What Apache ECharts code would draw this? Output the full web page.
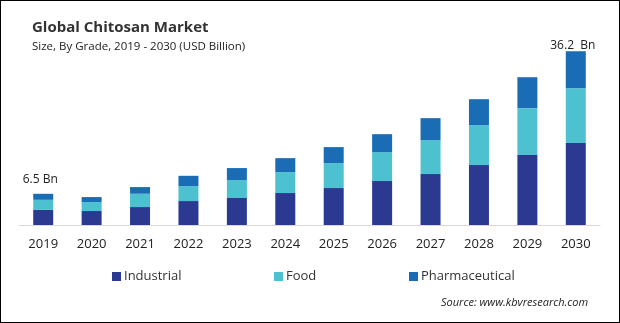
<!DOCTYPE html>
<html>
<head>
<meta charset="utf-8">
<script src="https://cdn.jsdelivr.net/npm/echarts@6/dist/echarts.min.js"></script>
<style>
html,body{margin:0;padding:0;background:#fff;}
#wrap{width:620px;height:323px;box-sizing:border-box;border:1px solid #000;position:relative;overflow:hidden;}
#chart{position:absolute;left:-1px;top:-1px;width:620px;height:323px;}
</style>
</head>
<body>
<div id="wrap"><div id="chart"></div></div>
<script>
const years = ['2019','2020','2021','2022','2023','2024','2025','2026','2027','2028','2029','2030'];
const industrial = [3.15, 2.91, 3.74, 4.99, 5.62, 6.66, 7.70, 9.15, 10.61, 12.48, 14.56, 17.06];
const food = [2.10, 1.87, 2.77, 3.12, 3.74, 4.37, 5.20, 6.03, 7.07, 8.32, 9.78, 11.44];
const pharmaceutical = [1.25, 1.04, 1.39, 2.14, 2.50, 2.90, 3.33, 3.74, 4.58, 5.41, 6.45, 7.70];
const seriesNames = ['Industrial', 'Food', 'Pharmaceutical'];
const totalLabels = {0: '6.5 Bn', 11: '36.2  Bn'};

const chart = echarts.init(document.getElementById('chart'));
const font = '"Open Sans", "Noto Sans", sans-serif';

const pharmData = pharmaceutical.map((v, i) => {
  if (totalLabels[i] === undefined) return v;
  return {
    value: v,
    label: {
      show: true,
      position: 'top',
      distance: i === 0 ? 8 : 0,
      offset: [-3, 0],
      formatter: totalLabels[i],
      color: '#222',
      fontSize: 12,
      fontFamily: font
    }
  };
});

const legendLefts = [112, 274, 409];
const legends = seriesNames.map((n, i) => ({
  data: [n],
  left: legendLefts[i], top: 270,
  padding: 0,
  itemWidth: 9, itemHeight: 9,
  icon: 'rect',
  textStyle: {fontFamily: font, fontSize: 13, color: '#333', padding: [0, 0, 0, -2]}
}));

chart.setOption({
  animation: false,
  title: [
    {text: 'Global Chitosan Market', left: 32, top: 20, padding: 0,
     textStyle: {fontFamily: font, fontWeight: 'bold', fontSize: 15, color: '#333'}},
    {text: 'Size, By Grade, 2019 - 2030 (USD Billion)', left: 32, top: 41, padding: 0,
     textStyle: {fontFamily: font, fontWeight: 'normal', fontSize: 11.5, color: '#222'}},
    {text: 'Source: www.kbvresearch.com', left: 441, top: 297, padding: 0,
     textStyle: {fontFamily: font, fontWeight: 'normal', fontStyle: 'italic', fontSize: 11, color: '#222'}}
  ],
  legend: legends,
  grid: {left: 19, right: 20, top: 33, bottom: 98},
  xAxis: {
    type: 'category',
    data: years,
    axisLine: {lineStyle: {color: '#d9d9d9', width: 1}},
    axisTick: {show: false},
    axisLabel: {fontFamily: font, fontSize: 13, color: '#222', margin: 13}
  },
  yAxis: {type: 'value', min: 0, max: 40, show: false, splitLine: {show: false}},
  series: [
    {name: seriesNames[0], type: 'bar', stack: 't', data: industrial, barWidth: 20, itemStyle: {color: '#2B3990'}},
    {name: seriesNames[1], type: 'bar', stack: 't', data: food, barWidth: 20, itemStyle: {color: '#4DC1CF'}},
    {name: seriesNames[2], type: 'bar', stack: 't', data: pharmData, barWidth: 20, itemStyle: {color: '#1A6DB5'}}
  ]
});
</script>
</body>
</html>
